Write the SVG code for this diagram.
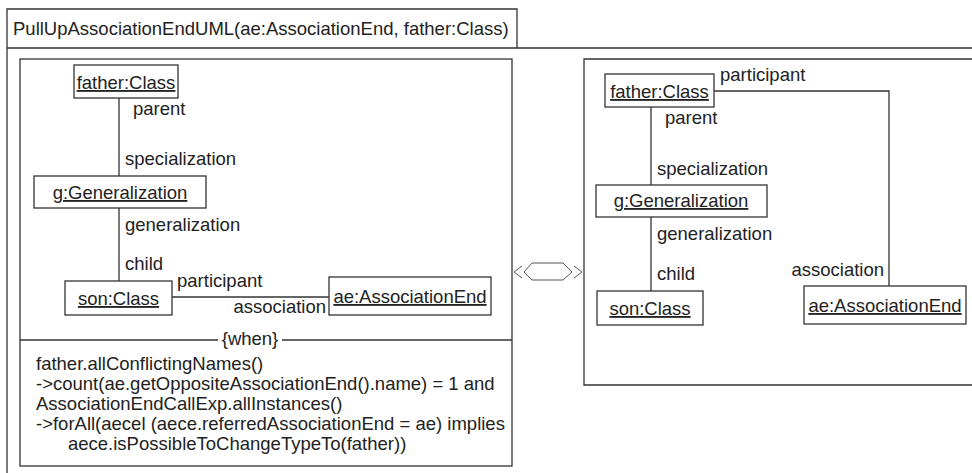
<svg xmlns="http://www.w3.org/2000/svg" width="972" height="473" viewBox="0 0 972 473">
  <style>
    text { font-family: "Liberation Sans", Arial, Helvetica, sans-serif; font-size: 18.5px; fill: #222; }
    .obj { text-anchor: middle; text-decoration: underline; }
    .end { text-anchor: end; }
    .mid { text-anchor: middle; }
    .box { fill: #fff; stroke: #333; stroke-width: 1.3; }
    .frame { fill: none; stroke: #333; stroke-width: 1.3; }
    .edge { fill: none; stroke: #333; stroke-width: 1.3; }
    .chev { fill: none; stroke: #555; stroke-width: 1; }
  </style>

  <rect width="972" height="473" fill="#fff"/>

  <!-- rule frame and header -->
  <g id="rule-frame">
    <path class="frame" d="M7,480 V9 H517 V48 M7,48 H980"/>
    <text x="13" y="35">PullUpAssociationEndUML(ae:AssociationEnd, father:Class)</text>
  </g>

  <!-- left-hand side pattern with its when-condition -->
  <g id="lhs-frame">
    <rect class="frame" x="20" y="59" width="492" height="407"/>
    <path class="frame" d="M20,340 H218 M282,340 H512"/>
    <text class="mid" x="250" y="345">{when}</text>
    <text x="36" y="370">father.allConflictingNames()</text>
    <text x="36" y="390">-&gt;count(ae.getOppositeAssociationEnd().name) = 1 and</text>
    <text x="36" y="410">AssociationEndCallExp.allInstances()</text>
    <text x="36" y="430">-&gt;forAll(aecel (aece.referredAssociationEnd = ae) implies</text>
    <text x="68" y="450">aece.isPossibleToChangeTypeTo(father))</text>
  </g>

  <!-- right-hand side pattern -->
  <g id="rhs-frame">
    <path class="frame" d="M980,59 H584 V385 H980"/>
  </g>

  <!-- correspondence symbol between the two sides -->
  <g id="rule-arrow">
    <polyline class="chev" points="522,266 514,272 522,278"/>
    <polygon class="chev" points="524,272 532,263 563,263 572,272 563,280 532,280"/>
    <polyline class="chev" points="574,266 582,272 574,278"/>
  </g>

  <!-- connectors with role names -->
  <g id="connectors">
    <path class="edge" d="M119,98 V176"/>
    <text x="133" y="115">parent</text>
    <text x="125" y="165">specialization</text>
    <path class="edge" d="M119,208 V281"/>
    <text x="125" y="231">generalization</text>
    <text x="125" y="270">child</text>
    <path class="edge" d="M172,297 H329"/>
    <text x="177" y="287">participant</text>
    <text class="end" x="326" y="313">association</text>

    <path class="edge" d="M651,107 V185"/>
    <text x="665" y="124">parent</text>
    <text x="657" y="175">specialization</text>
    <path class="edge" d="M651,217 V291"/>
    <text x="657" y="240">generalization</text>
    <text x="657" y="280">child</text>
    <path class="edge" d="M714,91 H889 V286"/>
    <text x="720" y="81">participant</text>
    <text class="end" x="884" y="276">association</text>
  </g>

  <!-- left-hand side objects -->
  <g id="lhs-father">
    <rect class="box" x="74" y="65" width="104" height="33"/>
    <text class="obj" x="126" y="89">father:Class</text>
  </g>
  <g id="lhs-g">
    <rect class="box" x="34" y="176" width="172" height="32"/>
    <text class="obj" x="120" y="199">g:Generalization</text>
  </g>
  <g id="lhs-son">
    <rect class="box" x="65" y="281" width="107" height="34"/>
    <text class="obj" x="118.5" y="305">son:Class</text>
  </g>
  <g id="lhs-ae">
    <rect class="box" x="329" y="277" width="162" height="38"/>
    <text class="obj" x="410" y="303">ae:AssociationEnd</text>
  </g>

  <!-- right-hand side objects -->
  <g id="rhs-father">
    <rect class="box" x="605" y="74" width="109" height="33"/>
    <text class="obj" x="659.5" y="98">father:Class</text>
  </g>
  <g id="rhs-g">
    <rect class="box" x="596" y="185" width="171" height="32"/>
    <text class="obj" x="681" y="207">g:Generalization</text>
  </g>
  <g id="rhs-son">
    <rect class="box" x="597" y="291" width="106" height="34"/>
    <text class="obj" x="650" y="315">son:Class</text>
  </g>
  <g id="rhs-ae">
    <rect class="box" x="804" y="286" width="162" height="38"/>
    <text class="obj" x="885" y="312">ae:AssociationEnd</text>
  </g>
</svg>
